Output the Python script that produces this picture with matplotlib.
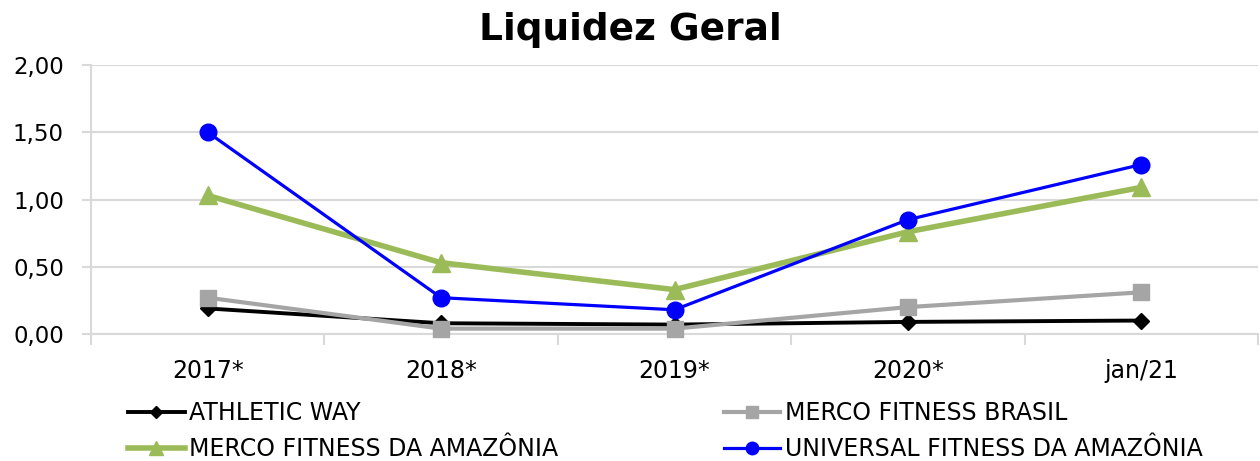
import matplotlib
matplotlib.use('Agg')
import matplotlib.pyplot as plt
from matplotlib.ticker import FuncFormatter

# Dados do gráfico
categorias = ['2017*', '2018*', '2019*', '2020*', 'jan/21']
athletic_way = [0.19, 0.08, 0.07, 0.09, 0.10]
merco_brasil = [0.27, 0.04, 0.04, 0.20, 0.31]
merco_amazonia = [1.03, 0.53, 0.33, 0.76, 1.09]
universal = [1.50, 0.27, 0.18, 0.85, 1.26]

cinza_grade = '#D9D9D9'

fig = plt.figure(figsize=(12.6, 4.61), dpi=100)
ax = fig.add_axes([91 / 1260, 1 - 334 / 461, (1258 - 91) / 1260, (334 - 65) / 461])

x = list(range(len(categorias)))

l_ath, = ax.plot(x, athletic_way, color='black', lw=2.8, marker='D', ms=8.5,
                 label='ATHLETIC WAY', clip_on=False, zorder=3)
l_bra, = ax.plot(x, merco_brasil, color='#A5A5A5', lw=3.0, marker='s', ms=11,
                 label='MERCO FITNESS BRASIL', clip_on=False, zorder=3)
l_ama, = ax.plot(x, merco_amazonia, color='#9BBB59', lw=4.0, marker='^', ms=13,
                 label='MERCO FITNESS DA AMAZÔNIA', clip_on=False, zorder=4)
l_uni, = ax.plot(x, universal, color='#0000FF', lw=2.3, marker='o', ms=12,
                 label='UNIVERSAL FITNESS DA AMAZÔNIA', clip_on=False, zorder=5)

ax.set_xlim(-0.5, len(categorias) - 0.5)
ax.set_ylim(0, 2.0)
ax.set_yticks([0, 0.5, 1.0, 1.5, 2.0])
ax.yaxis.set_major_formatter(FuncFormatter(lambda v, p: f'{v:.2f}'.replace('.', ',')))
ax.set_xticks(x)
ax.set_xticklabels(categorias)
ax.set_xticks([i - 0.5 for i in range(len(categorias) + 1)], minor=True)

ax.grid(axis='y', color=cinza_grade, lw=1.5, zorder=0)
ax.set_axisbelow(True)
for s in ['top', 'right']:
    ax.spines[s].set_visible(False)
for s in ['left', 'bottom']:
    ax.spines[s].set_color(cinza_grade)
    ax.spines[s].set_linewidth(1.5)

ax.tick_params(axis='x', which='major', length=0, pad=18, labelsize=17)
ax.tick_params(axis='x', which='minor', length=8, width=1.5, color=cinza_grade)
ax.tick_params(axis='y', length=6.5, width=1.5, color=cinza_grade, pad=13, labelsize=16.5)

fig.suptitle('Liquidez Geral', fontsize=27, fontweight='bold', y=0.975, x=0.5)

fig.legend(handles=[l_ath, l_ama, l_bra, l_uni], ncol=2, frameon=False,
           loc='upper left', bbox_to_anchor=(128 / 1260, 1 - 401 / 461),
           borderpad=0, borderaxespad=0, fontsize=17, handlelength=2.4,
           handletextpad=0.2, columnspacing=7.0, labelspacing=0.5, markerscale=0.75)

fig.savefig('out.png', dpi=100)
